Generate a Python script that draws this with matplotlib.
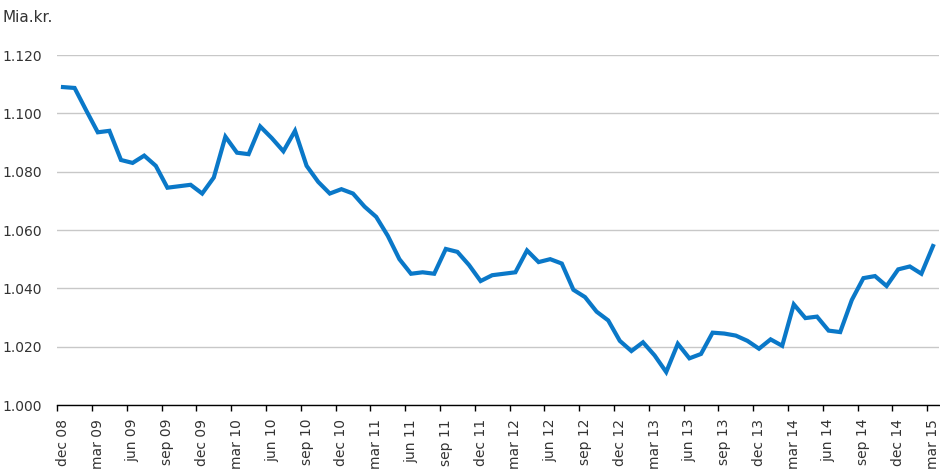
import matplotlib
matplotlib.use('Agg')
import matplotlib.pyplot as plt
import numpy as np

# monthly values dec 08 - mar 15, mia. kr.
months = ['dec 08', 'jan 09', 'feb 09', 'mar 09', 'apr 09', 'maj 09', 'jun 09', 'jul 09',
          'aug 09', 'sep 09', 'okt 09', 'nov 09', 'dec 09', 'jan 10', 'feb 10', 'mar 10',
          'apr 10', 'maj 10', 'jun 10', 'jul 10', 'aug 10', 'sep 10', 'okt 10', 'nov 10',
          'dec 10', 'jan 11', 'feb 11', 'mar 11', 'apr 11', 'maj 11', 'jun 11', 'jul 11',
          'aug 11', 'sep 11', 'okt 11', 'nov 11', 'dec 11', 'jan 12', 'feb 12', 'mar 12',
          'apr 12', 'maj 12', 'jun 12', 'jul 12', 'aug 12', 'sep 12', 'okt 12', 'nov 12',
          'dec 12', 'jan 13', 'feb 13', 'mar 13', 'apr 13', 'maj 13', 'jun 13', 'jul 13',
          'aug 13', 'sep 13', 'okt 13', 'nov 13', 'dec 13', 'jan 14', 'feb 14', 'mar 14',
          'apr 14', 'maj 14', 'jun 14', 'jul 14', 'aug 14', 'sep 14', 'okt 14', 'nov 14',
          'dec 14', 'jan 15', 'feb 15', 'mar 15']
values = [1109.0, 1108.7, 1101.0, 1093.5, 1094.0, 1084.0, 1083.0, 1085.5,
          1082.0, 1074.5, 1075.0, 1075.5, 1072.5, 1078.0, 1092.0, 1086.5,
          1086.0, 1095.5, 1091.5, 1087.0, 1094.0, 1082.0, 1076.5, 1072.5,
          1074.0, 1072.5, 1068.0, 1064.5, 1058.0, 1050.0, 1045.0, 1045.5,
          1045.0, 1053.5, 1052.5, 1048.0, 1042.5, 1044.5, 1045.0, 1045.5,
          1053.0, 1049.0, 1050.0, 1048.5, 1039.5, 1037.0, 1032.0, 1029.0,
          1022.0, 1018.5, 1021.5, 1017.0, 1011.3, 1021.0, 1016.0, 1017.5,
          1024.8, 1024.5, 1023.8, 1022.0, 1019.3, 1022.5, 1020.3, 1034.5,
          1029.8, 1030.3, 1025.5, 1025.0, 1036.0, 1043.5, 1044.2, 1040.8,
          1046.5, 1047.5, 1045.0, 1054.5]
label_every = 3
y_ticks = [1000, 1020, 1040, 1060, 1080, 1100, 1120]

plt.rcParams['font.family'] = 'DejaVu Sans'

fig = plt.figure(figsize=(9.4, 4.73), dpi=100)
ax = fig.add_axes([57.2 / 940, 1 - 405 / 473, (938.8 - 57.2) / 940, (405 - 55) / 473])

x = np.arange(len(values))
ax.plot(x, values, color='#0A78C8', lw=3.0, solid_joinstyle='miter')

ax.set_xlim(-0.5, len(values) - 0.5)
ax.set_ylim(1000, 1120)

# gridlines
ax.set_yticks(y_ticks)
ax.set_yticklabels(['{:,}'.format(v).replace(',', '.') for v in y_ticks], fontsize=10, color='#333333')
ax.yaxis.grid(True, color='#C8C8C8', lw=1)
ax.set_axisbelow(True)
ax.tick_params(axis='y', length=0, pad=11)

# labels at category centres, ticks at the boundaries
lab_idx = x[::label_every]
ax.set_xticks(lab_idx)
ax.set_xticklabels([months[i] for i in lab_idx], rotation=90, fontsize=10, color='#333333')
ax.tick_params(axis='x', which='major', length=0, pad=10)
ax.set_xticks(lab_idx - 0.5, minor=True)
ax.tick_params(axis='x', which='minor', length=4, width=1, color='black', direction='out')

for s in ['top', 'right', 'left']:
    ax.spines[s].set_visible(False)
ax.spines['bottom'].set_color('black')
ax.spines['bottom'].set_linewidth(1)

fig.text(2 / 940, 1 - 17 / 473, 'Mia.kr.', fontsize=11, color='#333333', ha='left', va='center')

fig.savefig('out.png', dpi=100)
